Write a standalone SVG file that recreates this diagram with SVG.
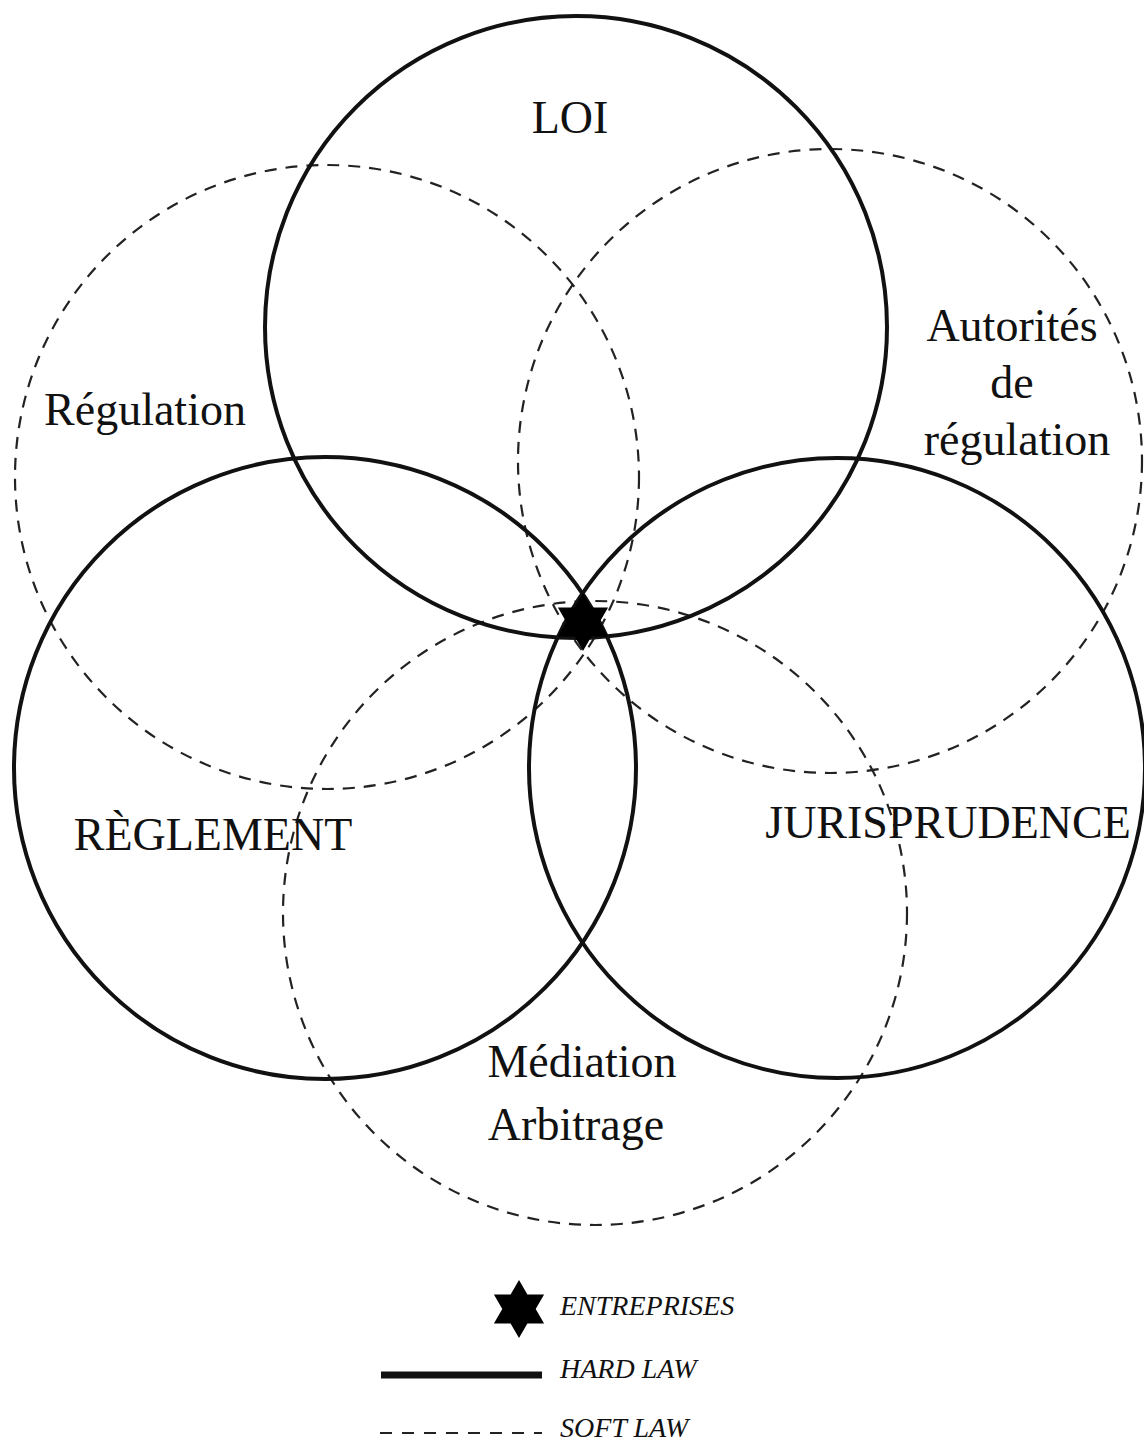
<svg xmlns="http://www.w3.org/2000/svg" width="1144" height="1441" viewBox="0 0 1144 1441">
<defs>
<style>
.hard{fill:none;stroke:#111;stroke-width:4}
.soft{fill:none;stroke:#222;stroke-width:2.2;stroke-dasharray:12 9}
.lbl{font-family:"Liberation Serif","Times New Roman",serif;font-size:46px;fill:#111;text-anchor:middle}
.leg{font-family:"Liberation Serif","Times New Roman",serif;font-size:28px;font-style:italic;fill:#111}
</style>
<path id="star" d="M0,-29 L8.4,-14.5 L25.1,-14.5 L16.7,0 L25.1,14.5 L8.4,14.5 L0,29 L-8.4,14.5 L-25.1,14.5 L-16.7,0 L-25.1,-14.5 L-8.4,-14.5 Z"/>
</defs>
<rect width="1144" height="1441" fill="#fff"/>
<g id="connectors">
<circle id="c-regulation" class="soft" cx="327" cy="477" r="312"/>
<circle id="c-autorites" class="soft" cx="830" cy="461" r="312"/>
<circle id="c-mediation" class="soft" cx="595" cy="913" r="312"/>
<circle id="c-loi" class="hard" cx="576" cy="327" r="311"/>
<circle id="c-reglement" class="hard" cx="325" cy="768" r="311"/>
<ellipse id="c-jurisprudence" class="hard" cx="837" cy="768" rx="308" ry="310"/>
</g>
<g id="loi"><text class="lbl" x="570" y="133">LOI</text></g>
<g id="regulation"><text class="lbl" x="145" y="425">Régulation</text></g>
<g id="autorites"><text class="lbl" x="1012" y="341">Autorités</text><text class="lbl" x="1012" y="398">de</text><text class="lbl" x="1017" y="455">régulation</text></g>
<g id="reglement"><text class="lbl" x="213" y="850">RÈGLEMENT</text></g>
<g id="jurisprudence"><text class="lbl" x="948" y="838">JURISPRUDENCE</text></g>
<g id="mediation"><text class="lbl" x="582" y="1077">Médiation</text><text class="lbl" x="576" y="1140">Arbitrage</text></g>
<g id="entreprises"><use href="#star" x="583" y="622" fill="#000"/></g>
<g id="legend">
<use href="#star" x="519" y="1309" fill="#000"/>
<text class="leg" x="560" y="1315">ENTREPRISES</text>
<line x1="381" y1="1375" x2="542" y2="1375" stroke="#111" stroke-width="7"/>
<text class="leg" x="560" y="1378">HARD LAW</text>
<line x1="380" y1="1433" x2="542" y2="1433" stroke="#222" stroke-width="2.2" stroke-dasharray="12 10"/>
<text class="leg" x="560" y="1437">SOFT LAW</text>
</g>
</svg>
